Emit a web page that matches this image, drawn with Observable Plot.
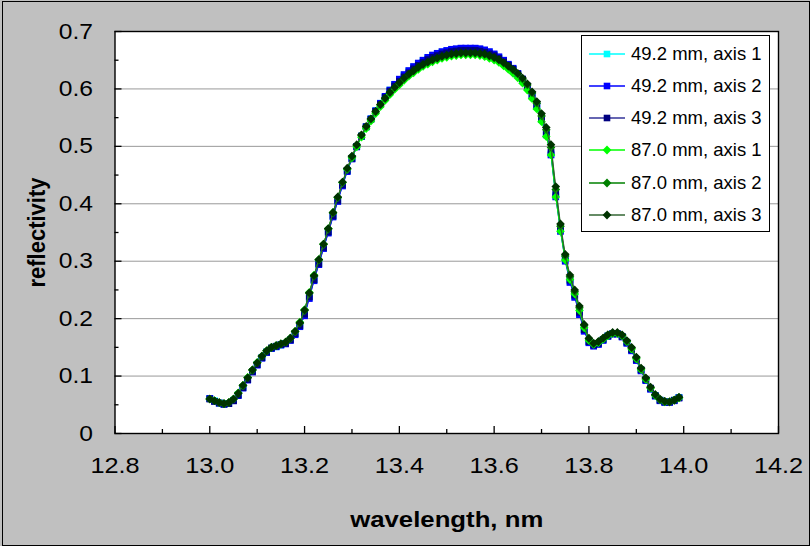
<!DOCTYPE html>
<html><head><meta charset="utf-8">
<script src="https://cdn.jsdelivr.net/npm/d3@7"></script>
<script src="https://cdn.jsdelivr.net/npm/@observablehq/plot@0.6"></script>
<style>
html,body{margin:0;padding:0;background:#c0c0c0;}
#wrap{position:relative;width:810px;height:546px;overflow:hidden;}
#border{position:absolute;left:2px;top:1px;width:808px;height:545px;border:1.5px solid #000;box-sizing:border-box;pointer-events:none;}
#legend{position:absolute;left:581px;top:35px;width:189px;height:197px;background:#fff;border:1px solid #000;box-sizing:border-box;font-family:"Liberation Sans",Arial,sans-serif;font-size:18.5px;color:#000;}
.item{position:absolute;left:7px;height:20px;display:flex;align-items:center;white-space:nowrap;}
.item svg{margin-right:6px;display:block}
</style></head><body><div id="wrap"><div id="legend"></div><div id="border"></div></div>
<script>
// wavelength, nm
const wavelength = [
13.00,13.01,13.02,13.03,13.04,13.05,13.06,13.07,13.08,13.09,
13.10,13.11,13.12,13.13,13.14,13.15,13.16,13.17,13.18,13.19,
13.20,13.21,13.22,13.23,13.24,13.25,13.26,13.27,13.28,13.29,
13.30,13.31,13.32,13.33,13.34,13.35,13.36,13.37,13.38,13.39,
13.40,13.41,13.42,13.43,13.44,13.45,13.46,13.47,13.48,13.49,
13.50,13.51,13.52,13.53,13.54,13.55,13.56,13.57,13.58,13.59,
13.60,13.61,13.62,13.63,13.64,13.65,13.66,13.67,13.68,13.69,
13.70,13.71,13.72,13.73,13.74,13.75,13.76,13.77,13.78,13.79,
13.80,13.81,13.82,13.83,13.84,13.85,13.86,13.87,13.88,13.89,
13.90,13.91,13.92,13.93,13.94,13.95,13.96,13.97,13.98,13.99];

const r49_axis1 = [
.061,.057,.053,.051,.052,.058,.067,.080,.094,.108,
.120,.132,.142,.148,.151,.154,.157,.163,.173,.187,
.207,.237,.267,.295,.323,.350,.378,.405,.432,.457,
.479,.500,.518,.534,.548,.562,.575,.587,.598,.608,
.616,.624,.631,.638,.644,.649,.654,.658,.661,.664,
.666,.668,.669,.670,.670,.670,.670,.669,.667,.664,
.660,.655,.649,.642,.635,.626,.616,.603,.588,.569,
.547,.521,.487,.415,.355,.303,.265,.239,.209,.180,
.159,.153,.156,.163,.170,.174,.174,.169,.158,.145,
.128,.110,.093,.078,.066,.058,.055,.055,.058,.063];

const r49_axis2 = [
.061,.056,.053,.051,.052,.057,.066,.079,.093,.107,
.119,.131,.141,.148,.151,.154,.156,.162,.172,.186,
.205,.235,.266,.294,.322,.349,.377,.404,.431,.456,
.478,.499,.517,.534,.548,.562,.575,.587,.598,.608,
.617,.625,.632,.639,.645,.650,.655,.659,.662,.665,
.667,.669,.670,.671,.671,.671,.671,.670,.668,.665,
.661,.656,.650,.643,.636,.627,.617,.604,.589,.570,
.547,.520,.485,.412,.352,.300,.263,.237,.207,.178,
.158,.152,.155,.162,.169,.173,.173,.168,.157,.144,
.127,.109,.092,.077,.065,.057,.054,.054,.057,.062];

const r49_axis3 = [
.060,.056,.053,.051,.052,.057,.067,.080,.094,.108,
.120,.132,.142,.149,.152,.155,.157,.163,.174,.188,
.208,.238,.268,.296,.324,.351,.379,.406,.433,.458,
.479,.500,.518,.534,.547,.561,.573,.585,.596,.605,
.613,.621,.628,.635,.641,.646,.651,.655,.658,.661,
.663,.665,.666,.667,.667,.667,.667,.666,.664,.661,
.658,.653,.647,.641,.634,.626,.617,.605,.590,.572,
.550,.524,.490,.418,.358,.306,.267,.241,.211,.181,
.160,.154,.157,.164,.170,.174,.174,.169,.159,.146,
.129,.111,.094,.079,.066,.058,.055,.055,.058,.062];

const r87_axis1 = [
.060,.057,.054,.052,.054,.060,.071,.084,.098,.111,
.124,.135,.144,.150,.153,.156,.159,.166,.178,.194,
.216,.246,.276,.303,.330,.357,.385,.411,.437,.460,
.480,.499,.516,.531,.544,.557,.569,.580,.590,.599,
.607,.615,.622,.628,.634,.639,.643,.647,.650,.653,
.655,.657,.658,.659,.659,.659,.659,.658,.656,.653,
.650,.646,.640,.634,.627,.619,.610,.598,.583,.565,
.543,.517,.485,.412,.352,.302,.268,.243,.214,.184,
.162,.155,.158,.164,.170,.174,.174,.170,.160,.147,
.130,.111,.094,.079,.066,.059,.055,.055,.058,.062];

const r87_axis2 = [
.060,.057,.054,.052,.054,.060,.070,.083,.097,.110,
.123,.134,.144,.150,.153,.156,.159,.166,.177,.192,
.214,.244,.274,.302,.329,.356,.384,.411,.437,.461,
.482,.502,.519,.534,.547,.560,.572,.583,.593,.602,
.610,.618,.625,.631,.637,.642,.646,.650,.653,.656,
.658,.660,.661,.662,.662,.662,.662,.661,.660,.657,
.654,.650,.645,.639,.633,.626,.617,.607,.593,.575,
.553,.529,.498,.425,.361,.309,.273,.247,.219,.188,
.165,.157,.160,.166,.172,.175,.175,.171,.161,.149,
.132,.113,.096,.080,.067,.059,.056,.055,.058,.063];

const r87_axis3 = [
.060,.057,.054,.052,.054,.060,.070,.084,.097,.111,
.123,.135,.144,.150,.153,.156,.159,.166,.178,.193,
.215,.245,.275,.303,.330,.357,.385,.412,.438,.462,
.483,.503,.520,.535,.548,.561,.573,.584,.594,.603,
.611,.619,.626,.632,.638,.643,.647,.651,.654,.657,
.659,.661,.662,.663,.663,.663,.663,.662,.661,.658,
.655,.651,.646,.640,.634,.627,.619,.609,.595,.578,
.557,.533,.503,.430,.365,.312,.276,.250,.222,.190,
.166,.157,.160,.166,.172,.176,.176,.172,.162,.150,
.133,.114,.097,.081,.068,.060,.056,.055,.058,.063];

const seriesNames = ["49.2 mm, axis 1","49.2 mm, axis 2","49.2 mm, axis 3","87.0 mm, axis 1","87.0 mm, axis 2","87.0 mm, axis 3"];
const seriesValues = [r49_axis1, r49_axis2, r49_axis3, r87_axis1, r87_axis2, r87_axis3];
const markerColors = ["#00ffff","#0000ff","#000080","#00ff00","#008000","#003300"];
const lineColors   = ["#00ffff","#0000ff","#333399","#00ff00","#008000","#336633"];
const symbols      = ["square","square","square","diamond","diamond","diamond"];

const xTicks = [12.8,13.0,13.2,13.4,13.6,13.8,14.0,14.2];
const xMinor = [12.9,13.1,13.3,13.5,13.7,13.9,14.1];
const yTicks = [0,0.1,0.2,0.3,0.4,0.5,0.6,0.7];
const yMinor = [0.05,0.15,0.25,0.35,0.45,0.55,0.65];
const yGrid  = [0.1,0.2,0.3,0.4,0.5,0.6];

const font = "'Liberation Sans', Arial, Helvetica, sans-serif";

const seriesMarks = [];
seriesNames.forEach((name, k) => {
  const data = wavelength.map((w, i) => ({w, r: seriesValues[k][i], s: name}));
  seriesMarks.push(Plot.line(data, {x: "w", y: "r", stroke: lineColors[k], strokeWidth: 1}));
  if (symbols[k] === "square") {
    seriesMarks.push(Plot.dot(data, {x: "w", y: "r", symbol: "square", r: 3.8, fill: markerColors[k], stroke: "none"}));
  } else {
    seriesMarks.push(Plot.dot(data, {x: "w", y: "r", symbol: "diamond2", r: 3.9, fill: markerColors[k], stroke: "none"}));
  }
});

const chart = Plot.plot({
  width: 810,
  height: 546,
  marginLeft: 114.5,
  marginRight: 32,
  marginTop: 31,
  marginBottom: 113,
  style: {background: "transparent", fontFamily: font, fontSize: "22px", color: "#000", overflow: "visible"},
  x: {domain: [12.8, 14.2]},
  y: {domain: [0, 0.7]},
  marks: [
    Plot.frame({fill: "white", stroke: null}),
    Plot.gridY(yGrid, {stroke: "#999", strokeOpacity: 1, strokeWidth: 1}),
    ...seriesMarks,
    Plot.frame({stroke: "#000", strokeWidth: 1.4}),
    Plot.axisX({ticks: xTicks, tickSize: -7, tickFormat: () => "", label: null, strokeWidth: 1.3}),
    Plot.axisX({ticks: xMinor, tickSize: -4, tickFormat: () => "", label: null, strokeWidth: 1.3}),
    Plot.axisY({ticks: yTicks, tickSize: -7, tickFormat: () => "", label: null, strokeWidth: 1.3}),
    Plot.axisY({ticks: yMinor, tickSize: -4, tickFormat: () => "", label: null, strokeWidth: 1.3}),
    Plot.axisX({ticks: xTicks, tickSize: 0, tickPadding: 24, tickFormat: d3.format(".1f"), label: null, fontSize: 22}),
    Plot.axisY({ticks: yTicks, tickSize: 0, tickPadding: 22, tickFormat: d => d === 0 ? "0" : d3.format(".1f")(d), label: null, fontSize: 22}),
    Plot.text(["wavelength, nm"], {text: d => d, frameAnchor: "bottom", dy: 86, fontWeight: "bold", fontSize: 22, lineAnchor: "middle", textAnchor: "middle"}),
    Plot.text(["reflectivity"], {text: d => d, frameAnchor: "left", dx: -78, rotate: -90, fontWeight: "bold", fontSize: 22, lineAnchor: "middle", textAnchor: "middle"})
  ]
});
chart.style.position = "absolute";
chart.style.left = "0px";
chart.style.top = "0px";
const wrap = document.getElementById("wrap");
wrap.insertBefore(chart, wrap.firstChild);

// the reference lettering is horizontally stretched; stretch glyphs about their anchor
function stretch(sel, sx, sy) {
  sel.each(function() {
    const tr = this.getAttribute("transform");
    if (tr) {
      this.setAttribute("transform", tr + ` scale(${sx},${sy})`);
    } else {
      const x = +this.getAttribute("x") || 0, y = +this.getAttribute("y") || 0;
      this.setAttribute("transform", `translate(${x},${y}) scale(${sx},${sy}) translate(${-x},${-y})`);
    }
  });
}
const svg = d3.select(chart);
stretch(svg.selectAll('g[aria-label="x-axis tick label"] text'), 1.15, 1);
stretch(svg.selectAll('g[aria-label="y-axis tick label"] text'), 1.12, 1);
const titles = svg.selectAll('g[aria-label="text"] text');
stretch(titles.filter(function() { return this.textContent === "wavelength, nm"; }), 1.17, 1);
stretch(titles.filter(function() { return this.textContent === "reflectivity"; }), 1, 1.12);

// legend
const legend = document.getElementById("legend");
seriesNames.forEach((name, k) => {
  const item = document.createElement("div");
  item.className = "item";
  item.style.top = (7.5 + k * 32.3) + "px";
  const ns = "http://www.w3.org/2000/svg";
  const sw = document.createElementNS(ns, "svg");
  sw.setAttribute("width", 36); sw.setAttribute("height", 12);
  const ln = document.createElementNS(ns, "line");
  ln.setAttribute("x1", 0); ln.setAttribute("x2", 36); ln.setAttribute("y1", 6); ln.setAttribute("y2", 6);
  ln.setAttribute("stroke", lineColors[k]); ln.setAttribute("stroke-width", 1.3);
  sw.appendChild(ln);
  let mk;
  if (symbols[k] === "square") {
    mk = document.createElementNS(ns, "rect");
    mk.setAttribute("x", 14.7); mk.setAttribute("y", 2.7); mk.setAttribute("width", 6.6); mk.setAttribute("height", 6.6);
  } else {
    mk = document.createElementNS(ns, "path");
    mk.setAttribute("d", "M18,1.6L22.4,6L18,10.4L13.6,6Z");
  }
  mk.setAttribute("fill", markerColors[k]);
  sw.appendChild(mk);
  item.appendChild(sw);
  const t = document.createElement("span");
  t.textContent = name;
  item.appendChild(t);
  legend.appendChild(item);
});
</script></body></html>
